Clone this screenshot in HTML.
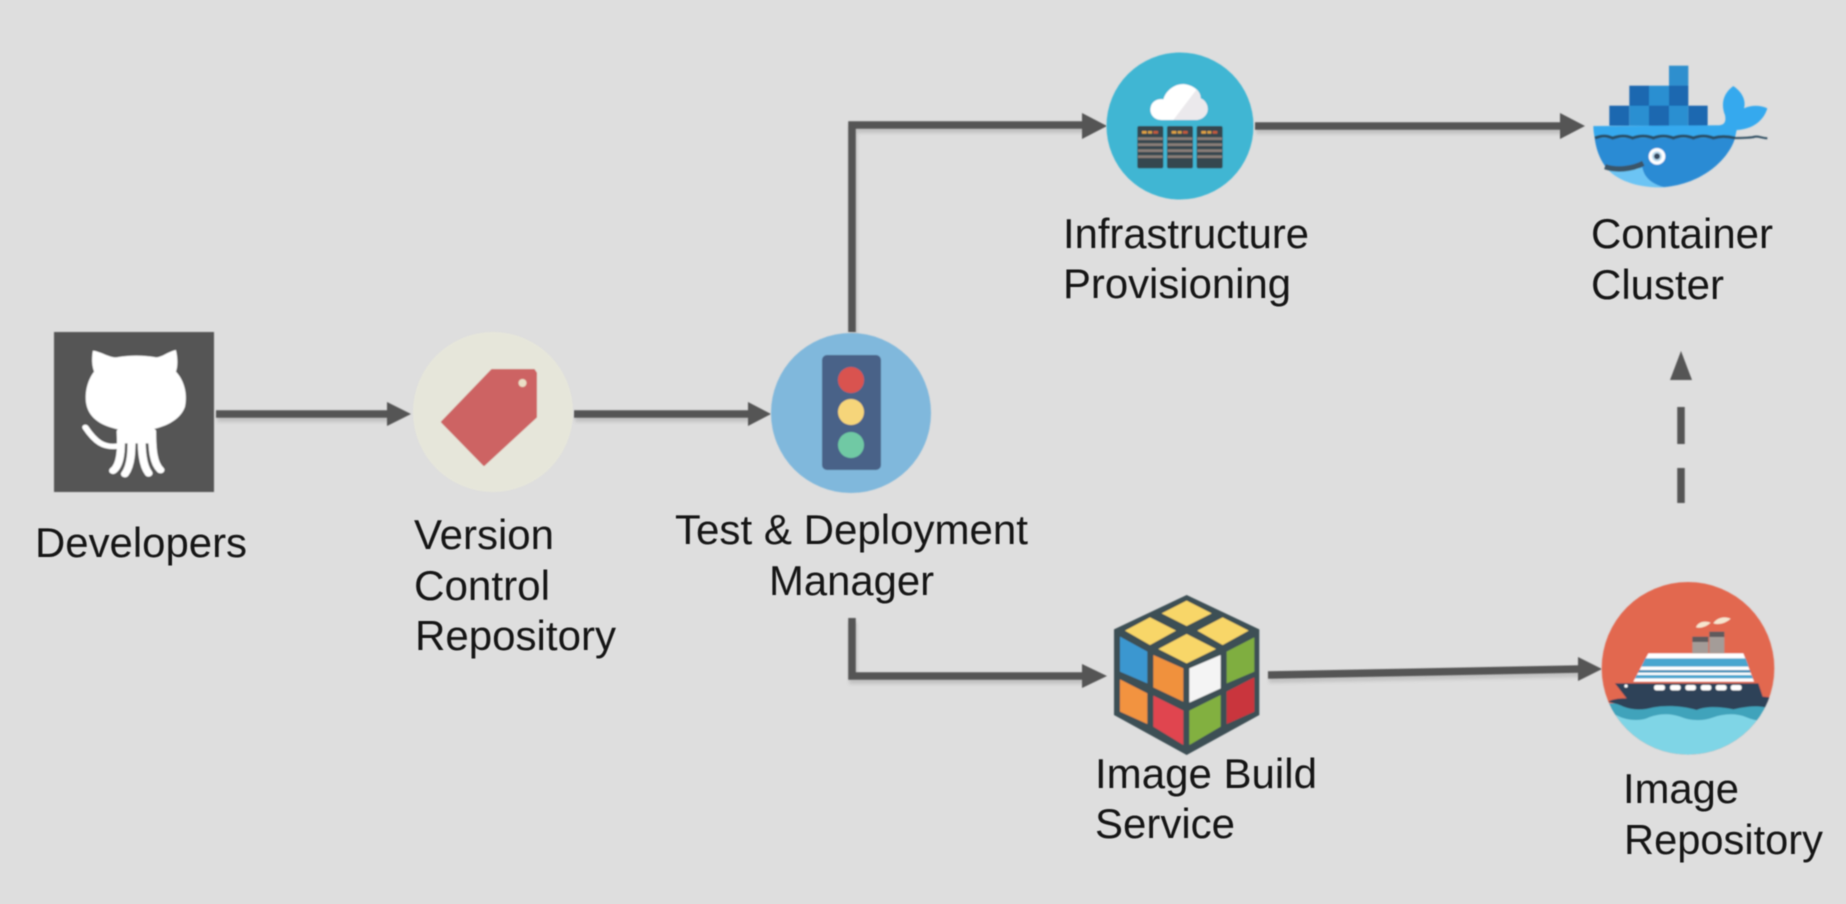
<!DOCTYPE html>
<html>
<head>
<meta charset="utf-8">
<style>
html,body{margin:0;padding:0;background:#dedede;width:1846px;height:904px;overflow:hidden}
svg{display:block}
text{font-family:"Liberation Sans",Arial,sans-serif;font-size:41.5px;fill:#141414}
</style>
</head>
<body>
<svg width="1846" height="904" viewBox="0 0 1846 904" xmlns="http://www.w3.org/2000/svg">
<defs>
<filter id="soft" x="-5%" y="-5%" width="110%" height="110%"><feGaussianBlur stdDeviation="0.8"/></filter>
<filter id="tsoft" x="-5%" y="-20%" width="110%" height="140%"><feGaussianBlur stdDeviation="0.45"/></filter>
<filter id="ash" x="-5%" y="-5%" width="110%" height="110%"><feGaussianBlur stdDeviation="0.7"/></filter>
<filter id="shadowblur" x="-5%" y="-5%" width="110%" height="110%"><feGaussianBlur stdDeviation="1.8"/></filter>
<clipPath id="shipclip"><circle cx="324" cy="295" r="259"/></clipPath>
</defs>
<rect width="1846" height="904" fill="#dedede"/>

<!-- connectors shadow -->
<g filter="url(#shadowblur)" opacity="0.2" transform="translate(1,4)" fill="none" stroke="#555" stroke-width="8">
<path d="M216 414H390M574 414H750M852 332V125H1085M1255 126H1562M852 618V676H1085M1268 675L1580 669"/>
</g>
<!-- connectors -->
<g filter="url(#ash)">
<g fill="none" stroke="#555" stroke-width="7.5" stroke-linejoin="miter">
<path d="M216 414H390"/>
<path d="M574 414H750"/>
<path d="M852 332V125H1085"/>
<path d="M1255 126H1562"/>
<path d="M852 618V676H1085"/>
<path d="M1268 675L1580 669"/>
<path d="M1681 407V444M1681 468V503"/>
</g>
<g fill="#555">
<polygon points="387,402 411,414 387,426"/>
<polygon points="748,402 771,414 748,426"/>
<polygon points="1082,113 1107,126 1082,139"/>
<polygon points="1560,113 1585,126 1560,139"/>
<polygon points="1082,664 1107,676 1082,688"/>
<polygon points="1578,657 1602,669 1578,681"/>
<polygon points="1670,380 1681,351 1692,380"/>
</g>
</g>

<g filter="url(#soft)">
<!-- Developers -->
<rect x="54" y="332" width="160" height="160" fill="#555555"/>
<g transform="translate(0,300) scale(0.3953,0.3333)">
<path fill="#fff" d="M235 152C255 155 280 175 295 172C325 165 365 165 395 172C410 172 425 155 445 150C450 175 450 200 445 215C465 240 475 280 468 320C455 365 410 382 385 388L385 430L300 430L300 388C265 380 225 360 218 310C214 275 222 240 238 215C232 195 232 175 235 152Z"/>
<g fill="none" stroke="#fff" stroke-width="20" stroke-linecap="round">
<path d="M305 395C308 450 305 495 286 512"/>
<path d="M333 400C333 450 333 495 316 522"/>
<path d="M358 400C358 450 360 495 376 520"/>
<path d="M385 395C385 450 388 490 406 510"/>
<path d="M216 382C240 425 262 445 300 438" stroke-width="16"/>
</g>
</g>

<!-- Version control -->
<circle cx="493" cy="412" r="80" fill="#e6e6da"/>
<polygon points="492,370 534,370 536,373 536,417 484,465 442,422" fill="#cd6464" stroke="#cd6464" stroke-width="2" stroke-linejoin="round"/>
<circle cx="522.5" cy="383" r="4" fill="#eadfc6"/>

<!-- Traffic light -->
<circle cx="851" cy="413" r="80" fill="#80b8dc"/>
<rect x="822" y="355" width="59" height="115" rx="5" fill="#4a6288"/>
<circle cx="851" cy="380" r="13" fill="#d9534f"/>
<circle cx="851" cy="412" r="13" fill="#f6d57a"/>
<circle cx="851" cy="445" r="13" fill="#6fc9a4"/>

<!-- Infrastructure -->
<circle cx="1180" cy="126" r="73.5" fill="#3fb6d3"/>
<g transform="translate(1050,30) scale(0.3333)">
<path fill="#fff" d="M335 270C310 270 298 250 302 232C306 212 325 205 340 208C350 175 385 155 415 165C440 172 452 190 452 205C470 212 478 235 470 250C462 266 445 270 435 270Z"/>
<path fill="#ebe9ec" d="M440 178C452 190 452 200 452 205C470 212 478 235 470 250C462 266 445 270 435 270L370 270Z"/>
<g>
<rect x="262" y="288" width="78" height="127" rx="6" fill="#34474f"/>
<rect x="264" y="322" width="74" height="8" fill="#8a7f78"/>
<rect x="264" y="340" width="74" height="8" fill="#8a7f78"/>
<rect x="264" y="358" width="74" height="8" fill="#8a7f78"/>
<rect x="264" y="376" width="74" height="8" fill="#8a7f78"/>
<rect x="276" y="303" width="14" height="8" fill="#e2a33f"/>
<rect x="294" y="303" width="12" height="8" fill="#d9a040"/>
<rect x="310" y="303" width="14" height="8" fill="#c45a3a"/>
</g>
<g transform="translate(89,0)">
<rect x="262" y="288" width="78" height="127" rx="6" fill="#34474f"/>
<rect x="264" y="322" width="74" height="8" fill="#8a7f78"/>
<rect x="264" y="340" width="74" height="8" fill="#8a7f78"/>
<rect x="264" y="358" width="74" height="8" fill="#8a7f78"/>
<rect x="264" y="376" width="74" height="8" fill="#8a7f78"/>
<rect x="276" y="303" width="14" height="8" fill="#e2a33f"/>
<rect x="294" y="303" width="12" height="8" fill="#d9a040"/>
<rect x="310" y="303" width="14" height="8" fill="#c45a3a"/>
</g>
<g transform="translate(178,0)">
<rect x="262" y="288" width="78" height="127" rx="6" fill="#34474f"/>
<rect x="264" y="322" width="74" height="8" fill="#8a7f78"/>
<rect x="264" y="340" width="74" height="8" fill="#8a7f78"/>
<rect x="264" y="358" width="74" height="8" fill="#8a7f78"/>
<rect x="264" y="376" width="74" height="8" fill="#8a7f78"/>
<rect x="276" y="303" width="14" height="8" fill="#e2a33f"/>
<rect x="294" y="303" width="12" height="8" fill="#d9a040"/>
<rect x="310" y="303" width="14" height="8" fill="#c45a3a"/>
</g>
</g>

<!-- Docker -->
<g transform="translate(1560,40) scale(0.3333)">
<rect x="327" y="77" width="58" height="60" fill="#2f8fce"/>
<rect x="208" y="137" width="59" height="60" fill="#1b67b0"/>
<rect x="267" y="137" width="60" height="60" fill="#2a8fd1"/>
<rect x="327" y="137" width="58" height="60" fill="#1b67b0"/>
<rect x="148" y="197" width="60" height="60" fill="#1b67b0"/>
<rect x="208" y="197" width="59" height="60" fill="#2a8fd1"/>
<rect x="267" y="197" width="60" height="60" fill="#1b67b0"/>
<rect x="327" y="197" width="58" height="60" fill="#2a8fd1"/>
<rect x="385" y="197" width="58" height="60" fill="#1b67b0"/>
<path fill="#36a9ee" d="M100 258L470 256C490 256 500 250 495 225C482 190 490 160 520 138C550 158 558 185 552 205C575 195 600 195 622 205C612 240 580 268 530 270C528 280 526 288 524 298L105 298C102 285 100 270 100 258Z"/>
<path fill="#2a8bd4" d="M104 295L525 295C505 360 425 432 315 441C280 443 255 425 245 385C200 385 160 392 135 378C118 355 108 325 104 295Z"/>
<path fill="#6cc4f4" d="M140 385C170 420 230 445 315 442C272 432 252 410 247 382C210 395 170 395 140 385Z"/>
<path fill="none" stroke="#3b5568" stroke-width="16" d="M135 380C170 392 215 388 250 370"/>
<path fill="none" stroke="#2a4f68" stroke-width="9" d="M105 294C125 286 140 286 158 294C180 286 200 286 218 294C240 286 260 286 280 294C300 286 320 286 340 294C360 286 380 286 400 294C420 286 440 286 460 294C480 288 500 288 525 294"/>
<path fill="none" stroke="#2f4d60" stroke-width="6" d="M525 294C550 294 570 294 585 290C595 288 605 294 622 295"/>
<circle cx="291" cy="349" r="25" fill="#fff"/>
<circle cx="291" cy="349" r="15" fill="#b8d9ee"/>
<circle cx="291" cy="349" r="9" fill="#34485e"/>
</g>

<!-- Cube -->
<g transform="translate(1090,580) scale(0.3333)">
<polygon points="290,45 508,148 508,405 290,525 72,405 72,148" fill="#3d4f55"/>
<g fill="#f8d668">
<polygon points="290,62 365,100 290,138 215,100"/>
<polygon points="180,112 258,152 180,195 105,152"/>
<polygon points="398,112 476,152 398,195 322,152"/>
<polygon points="290,162 378,207 290,250 205,207"/>
</g>
<polygon points="90,170 172,215 172,310 90,275" fill="#3a97d0"/>
<polygon points="190,225 280,265 280,365 190,322" fill="#f0913d"/>
<polygon points="90,298 172,340 172,432 90,395" fill="#f2933f"/>
<polygon points="190,347 280,392 280,495 190,440" fill="#e04550"/>
<polygon points="298,265 392,225 392,325 298,368" fill="#f4f4f4"/>
<polygon points="410,215 493,172 493,275 410,310" fill="#7fae3f"/>
<polygon points="298,392 392,345 392,440 298,495" fill="#82b040"/>
<polygon points="410,335 493,292 493,395 410,432" fill="#c9353c"/>
</g>

<!-- Ship -->
<g transform="translate(1580,570) scale(0.3333)">
<circle cx="324" cy="295" r="259" fill="#e2674f"/>
<g clip-path="url(#shipclip)">
<rect x="60" y="420" width="530" height="140" fill="#7fd5e6"/>
<path fill="#3fa3bb" d="M60 400H590V440C560 455 530 455 500 442C465 428 430 432 400 442C365 455 330 452 300 440C265 428 230 432 200 445C170 455 130 450 100 430L60 420Z"/>
<path fill="#2f4258" d="M85 395C100 385 125 385 140 385L105 340L535 340L548 380L572 382L556 412C520 405 490 412 460 418C420 410 380 408 350 420C310 408 260 405 220 412C190 420 160 422 130 410C115 402 100 400 85 395Z"/>
<path fill="#fff" d="M160 335L205 250H490L522 335Z"/>
<path fill="#4aa6cf" d="M196 265H497L506 290H184Z"/>
<path fill="#3f8fb8" d="M178 300H510L512 308H174Z"/>
<path fill="#4aa6cf" d="M170 315H515L519 325H165Z"/>
<circle cx="138" cy="348" r="5" fill="#fff"/>
<g fill="#fff">
<rect x="222" y="345" width="33" height="16" rx="7"/>
<rect x="270" y="345" width="32" height="16" rx="7"/>
<rect x="316" y="345" width="32" height="16" rx="7"/>
<rect x="362" y="345" width="32" height="16" rx="7"/>
<rect x="407" y="345" width="33" height="16" rx="7"/>
<rect x="452" y="345" width="33" height="16" rx="7"/>
</g>
<rect x="337" y="200" width="48" height="50" fill="#a49c98"/>
<rect x="337" y="200" width="48" height="16" fill="#5e5a5c"/>
<rect x="388" y="185" width="45" height="65" fill="#a49c98"/>
<rect x="388" y="185" width="45" height="16" fill="#5e5a5c"/>
<path fill="#f6e6cf" d="M348 172C352 158 372 150 392 158C380 170 362 176 348 172Z"/>
<path fill="#f6e6cf" d="M400 160C408 146 430 136 452 146C440 158 418 166 400 160Z"/>
</g>
</g>
</g>

<!-- Labels -->
<g filter="url(#tsoft)">
<text x="35" y="557" textLength="212" lengthAdjust="spacingAndGlyphs">Developers</text>
<text x="414" y="549" textLength="140" lengthAdjust="spacingAndGlyphs">Version</text>
<text x="414" y="600" textLength="136" lengthAdjust="spacingAndGlyphs">Control</text>
<text x="415" y="650" textLength="201" lengthAdjust="spacingAndGlyphs">Repository</text>
<text x="675" y="544" textLength="353" lengthAdjust="spacingAndGlyphs">Test &amp; Deployment</text>
<text x="769" y="595" textLength="165" lengthAdjust="spacingAndGlyphs">Manager</text>
<text x="1063" y="248" textLength="246" lengthAdjust="spacingAndGlyphs">Infrastructure</text>
<text x="1063" y="298" textLength="228" lengthAdjust="spacingAndGlyphs">Provisioning</text>
<text x="1591" y="248" textLength="182" lengthAdjust="spacingAndGlyphs">Container</text>
<text x="1591" y="299" textLength="133" lengthAdjust="spacingAndGlyphs">Cluster</text>
<text x="1095" y="788" textLength="222" lengthAdjust="spacingAndGlyphs">Image Build</text>
<text x="1095" y="838" textLength="140" lengthAdjust="spacingAndGlyphs">Service</text>
<text x="1623" y="803" textLength="116" lengthAdjust="spacingAndGlyphs">Image</text>
<text x="1624" y="854" textLength="199" lengthAdjust="spacingAndGlyphs">Repository</text>
</g>
</svg>
</body>
</html>
